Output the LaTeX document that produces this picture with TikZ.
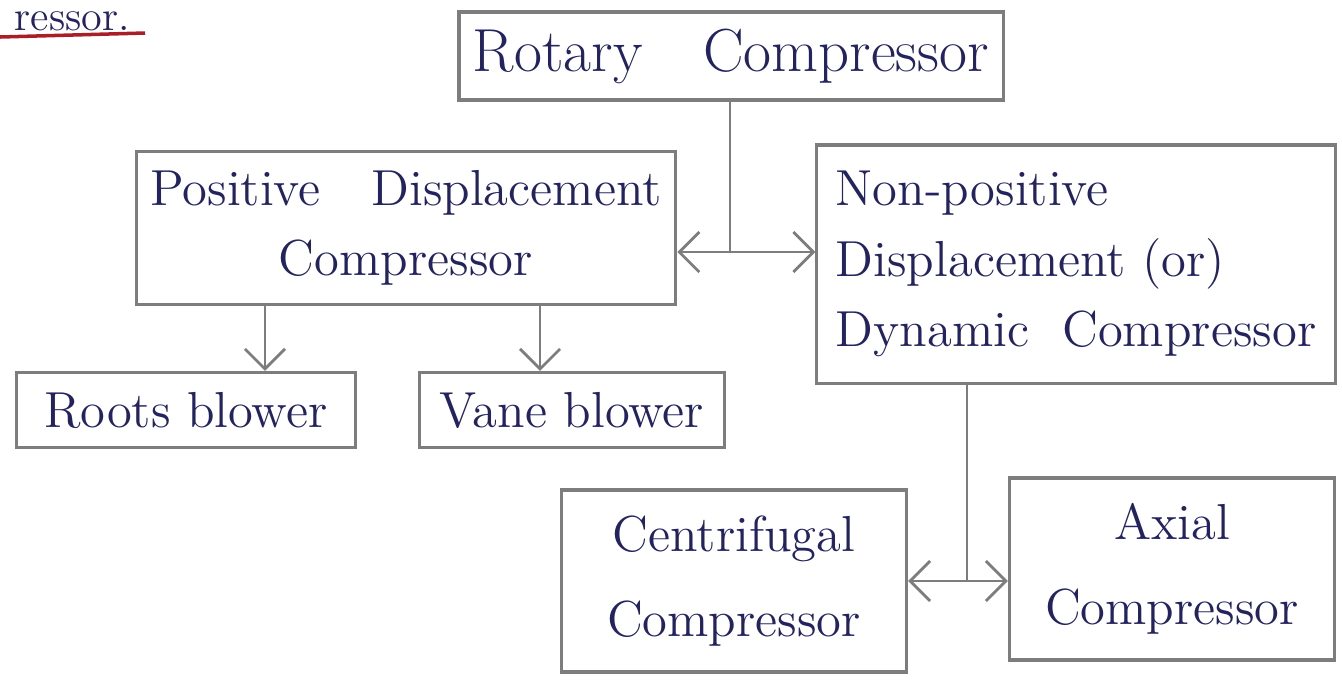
\documentclass[tikz,border=0pt]{standalone}
\usepackage{amsmath}
\usetikzlibrary{arrows.meta,positioning}

\definecolor{pencil}{RGB}{125,125,125}
\definecolor{ink}{RGB}{35,35,95}
\definecolor{redpen}{RGB}{170,30,40}

\tikzset{
    box/.style={draw=pencil, line width=0.9pt, text=ink, font=\Large, inner sep=4pt},
    link/.style={draw=pencil, line width=0.8pt},
    tip/.style={link, -{Straight Barb[length=2mm,width=4mm]}},
}

\begin{document}
\begin{tikzpicture}[x=0.01cm,y=-0.01cm]
    \useasboundingbox (0,0) rectangle (1342,687);
    % cut-off heading
    \node[text=ink, font=\large, anchor=base west, inner sep=0pt] (frag) at (14,30) {ressor.};
    \draw[redpen, line width=1pt] (0,37) -- (145,33);

    \node[box, font=\LARGE, minimum width=5.32cm, minimum height=0.88cm] (rotary) at (731,56) {Rotary\quad Compressor};
    \node[box, align=center, minimum width=5.23cm, minimum height=1.53cm] (pdc) at (406,228) {Positive\quad Displacement\\[2pt] Compressor};
    \node[box, align=left, minimum width=5.18cm, minimum height=2.38cm] (npdc) at (1076,264) {Non-positive\\[2pt] Displacement (or)\\[2pt] Dynamic\ \ Compressor};
    \node[box, minimum width=3.38cm, minimum height=0.75cm] (roots) at (186,410) {Roots blower};
    \node[box, minimum width=3.05cm, minimum height=0.75cm] (vane) at (572,410) {Vane blower};
    \node[box, align=center, minimum width=3.45cm, minimum height=1.82cm] (cfc) at (734,581) {Centrifugal\\[6pt] Compressor};
    \node[box, align=center, minimum width=3.25cm, minimum height=1.82cm] (axial) at (1172,569) {Axial\\[6pt] Compressor};

    % rotary -> two kinds
    \coordinate (j1) at ([xshift=-0.01cm]rotary.south |- 0,252);
    \draw[link] (j1 |- rotary.south) -- (j1);
    \draw[tip] (j1) -- (j1 -| pdc.east);
    \draw[tip] (j1) -- (j1 -| npdc.west);

    % positive displacement -> blowers
    \coordinate (p1) at ([xshift=-1.41cm]pdc.south);
    \coordinate (p2) at ([xshift=1.34cm]pdc.south);
    \draw[tip] (p1) -- (p1 |- roots.north);
    \draw[tip] (p2) -- (p2 |- vane.north);

    % dynamic -> centrifugal / axial
    \coordinate (n1) at ([xshift=-1.09cm]npdc.south);
    \coordinate (j2) at (n1 |- cfc.east);
    \draw[link] (n1) -- (j2);
    \draw[tip] (j2) -- (cfc.east);
    \draw[tip] (j2) -- (j2 -| axial.west);
\end{tikzpicture}
\end{document}
